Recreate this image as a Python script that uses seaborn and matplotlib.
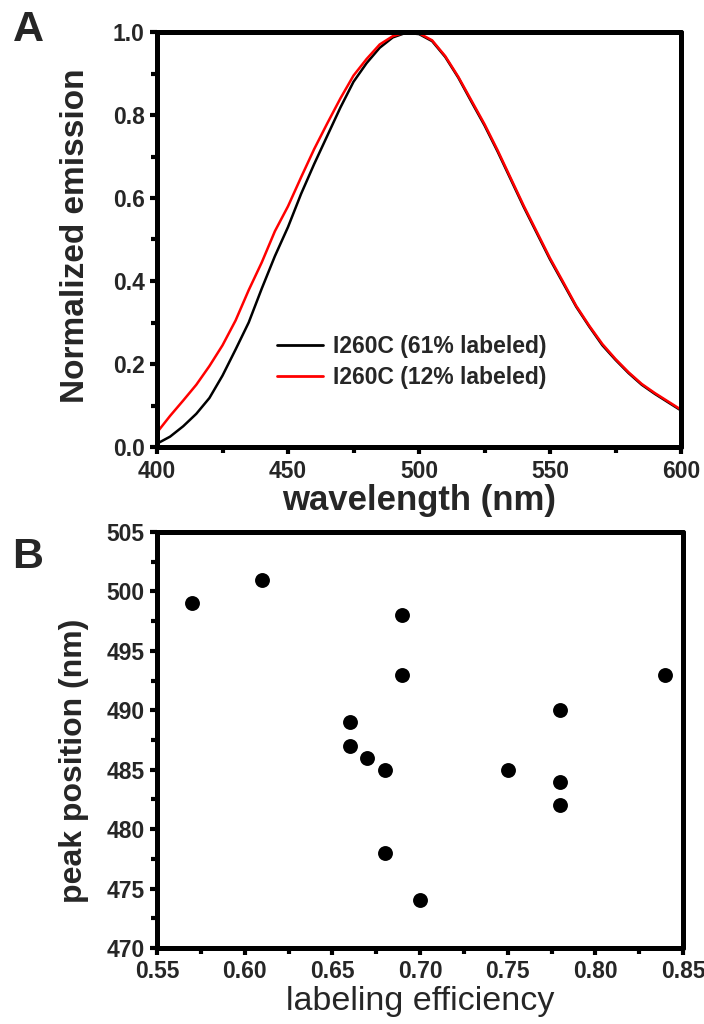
import numpy as np
import pandas as pd
import matplotlib
matplotlib.use("Agg")
import matplotlib.pyplot as plt
from matplotlib.ticker import MultipleLocator
from matplotlib.font_manager import FontProperties
import seaborn as sns

# ---------------- data ----------------
wavelength = [400, 405, 410, 415, 420, 425, 430, 435, 440, 445, 450, 455, 460, 465,
              470, 475, 480, 485, 490, 495, 500, 505, 510, 515, 520, 525, 530, 535,
              540, 545, 550, 555, 560, 565, 570, 575, 580, 585, 590, 595, 600]
emission_61 = [0.008, 0.025, 0.050, 0.080, 0.118, 0.172, 0.235, 0.300, 0.382, 0.460,
               0.530, 0.610, 0.682, 0.750, 0.818, 0.880, 0.925, 0.962, 0.987, 0.998,
               0.995, 0.978, 0.940, 0.890, 0.832, 0.775, 0.712, 0.645, 0.578, 0.515,
               0.452, 0.395, 0.338, 0.290, 0.245, 0.210, 0.178, 0.150, 0.128, 0.108, 0.088]
emission_12 = [0.035, 0.075, 0.112, 0.150, 0.195, 0.245, 0.305, 0.378, 0.445, 0.520,
               0.580, 0.650, 0.718, 0.780, 0.840, 0.895, 0.935, 0.970, 0.990, 0.999,
               0.997, 0.980, 0.942, 0.892, 0.835, 0.778, 0.715, 0.648, 0.581, 0.518,
               0.455, 0.398, 0.340, 0.292, 0.248, 0.212, 0.180, 0.152, 0.130, 0.110, 0.090]
series_labels = ["I260C (61% labeled)", "I260C (12% labeled)"]

labeling_efficiency = [0.57, 0.61, 0.69, 0.69, 0.66, 0.66, 0.67, 0.68, 0.75, 0.78,
                       0.84, 0.78, 0.78, 0.68, 0.70]
peak_position = [499, 501, 498, 493, 489, 487, 486, 485, 485, 490,
                 493, 484, 482, 478, 474]

# ---------------- style ----------------
sns.set_style("ticks")
plt.rcParams['font.family'] = ['Liberation Sans', 'DejaVu Sans']
plt.rcParams['font.weight'] = 'bold'

fig = plt.figure(figsize=(7.04, 10.24), dpi=100)
axA = fig.add_axes([157/704, 1 - 447/1024, (681-157)/704, (447-32)/1024])
axB = fig.add_axes([157/704, 1 - 948/1024, (683-157)/704, (948-532)/1024])

SPW = 3.6

def style_axes(ax, tickfont):
    for s in ax.spines.values():
        s.set_linewidth(SPW)
        s.set_color('black')
        s.set_capstyle('round')
    ax.tick_params(axis='both', which='major', direction='out', length=5, width=3,
                   color='black', pad=4, top=False, right=False)
    ax.tick_params(axis='both', which='minor', direction='out', length=4, width=3,
                   color='black', top=False, right=False)
    for lab in ax.get_xticklabels() + ax.get_yticklabels():
        lab.set_fontproperties(tickfont)

# ---------------- panel A ----------------
dfA = pd.DataFrame({
    "wavelength": wavelength * 2,
    "emission": emission_61 + emission_12,
    "sample": [series_labels[0]] * len(wavelength) + [series_labels[1]] * len(wavelength),
})
sns.lineplot(data=dfA, x="wavelength", y="emission", hue="sample",
             palette={series_labels[0]: "black", series_labels[1]: "#ff0000"},
             linewidth=1.8, ax=axA, legend=True)
axA.set_xlim(400, 600)
axA.set_ylim(0, 1.0)
axA.xaxis.set_major_locator(MultipleLocator(50))
axA.xaxis.set_minor_locator(MultipleLocator(25))
axA.yaxis.set_minor_locator(MultipleLocator(0.1))
axA.set_yticks([0.0, 0.2, 0.4, 0.6, 0.8, 1.0])
axA.set_yticklabels(["0.0", "0.2", "0.4", "0.6", "0.8", "1.0"])
fpA = FontProperties(family='Liberation Sans', weight='bold', size=16.5)
style_axes(axA, fpA)
axA.set_xlabel("wavelength (nm)", fontsize=25, fontweight='bold', labelpad=1)
axA.set_ylabel("Normalized emission", fontsize=24, fontweight='bold', labelpad=2)
axA.yaxis.set_label_coords(-0.125, 0.51)
leg = axA.legend(frameon=False, loc='center left', bbox_to_anchor=(0.19, 0.205),
                 handlelength=2.0, handletextpad=0.45, labelspacing=0.35,
                 prop=FontProperties(family='Liberation Sans', weight='bold', size=16.5))
for line in leg.get_lines():
    line.set_linewidth(2.0)
fig.text(28/704, 1 - 30/1024, "A", fontsize=31, fontweight='bold', va='center', ha='center')

# ---------------- panel B ----------------
dfB = pd.DataFrame({"eff": labeling_efficiency, "peak": peak_position})
sns.scatterplot(data=dfB, x="eff", y="peak", color="black", s=115,
                edgecolor="black", linewidth=0, ax=axB)
axB.set_xlim(0.55, 0.85)
axB.set_ylim(470, 505)
axB.set_xticks([0.55, 0.60, 0.65, 0.70, 0.75, 0.80, 0.85])
axB.set_xticklabels(["0.55", "0.60", "0.65", "0.70", "0.75", "0.80", "0.85"])
axB.xaxis.set_minor_locator(MultipleLocator(0.025))
axB.yaxis.set_major_locator(MultipleLocator(5))
axB.yaxis.set_minor_locator(MultipleLocator(2.5))
fpB = FontProperties(family='Liberation Sans', weight='bold', size=16.5)
style_axes(axB, fpB)
axB.set_xlabel("labeling efficiency", fontsize=24.5, fontweight='normal', labelpad=2)
axB.set_ylabel("peak position (nm)", fontsize=23, fontweight='bold', labelpad=6)
axB.yaxis.set_label_coords(-0.13, 0.45)
fig.text(28/704, 1 - 557/1024, "B", fontsize=31, fontweight='bold', va='center', ha='center')

fig.savefig("out.png", dpi=100)
